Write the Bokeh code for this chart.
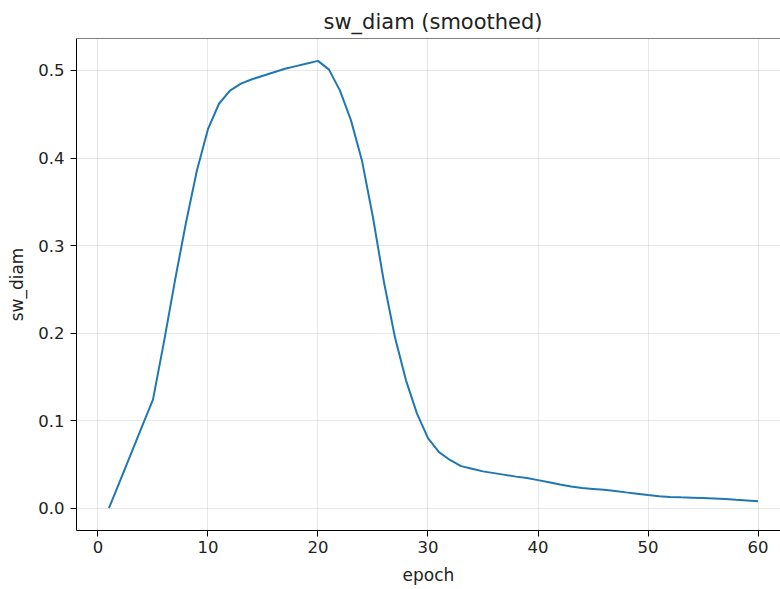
from bokeh.plotting import figure
from bokeh.models import FixedTicker, PrintfTickFormatter, Range1d, Span
from bokeh.embed import file_html
from bokeh.resources import INLINE

# smoothed sw_diam per training epoch
epochs = list(range(1, 61))
sw_diam = [
    0.000, 0.031, 0.062, 0.093, 0.124, 0.190, 0.260, 0.326, 0.386, 0.433,
    0.462, 0.477, 0.485, 0.490, 0.494, 0.498, 0.502, 0.505, 0.508, 0.511,
    0.501, 0.477, 0.443, 0.397, 0.332, 0.258, 0.195, 0.146, 0.108, 0.080,
    0.064, 0.055, 0.048, 0.045, 0.042, 0.040, 0.038, 0.036, 0.0345, 0.032,
    0.0295, 0.027, 0.0248, 0.023, 0.022, 0.021, 0.0196, 0.018, 0.0165, 0.015,
    0.0136, 0.0127, 0.0123, 0.012, 0.0115, 0.011, 0.0103, 0.0095, 0.0088, 0.0078,
]
x_ticks = [0, 10, 20, 30, 40, 50, 60]
y_ticks = [0.0, 0.1, 0.2, 0.3, 0.4, 0.5]

FONT = "DejaVu Sans"
W, H = 780, 589
LEFT, TOP, BOTTOM = 76, 38, 59
FULL_FRAME_W = 714          # the axes box runs past the right edge of the page
frame_w = W - LEFT

# 5% padding around the data
x_pad = (max(epochs) - min(epochs)) * 0.05
y_pad = (max(sw_diam) - min(sw_diam)) * 0.05
x_lo = min(epochs) - x_pad
x_hi_full = max(epochs) + x_pad
x_hi = x_lo + (x_hi_full - x_lo) * frame_w / FULL_FRAME_W
y_lo = min(sw_diam) - y_pad
y_hi = max(sw_diam) + y_pad

p = figure(
    width=W, height=H,
    output_backend="svg", toolbar_location=None,
    x_range=Range1d(x_lo, x_hi),
    y_range=Range1d(y_lo, y_hi),
    min_border_left=LEFT, min_border_right=0,
    min_border_top=TOP, min_border_bottom=BOTTOM,
    title="sw_diam (smoothed)",
)

p.title.text_font = FONT
p.title.text_font_size = "21px"
p.title.text_font_style = "normal"
p.title.align = "left"
p.title.offset = 247
p.title.text_color = "#222222"

p.outline_line_color = None
p.background_fill_color = "white"
p.border_fill_color = "white"

# top spine
p.add_layout(Span(location=y_hi, dimension="width", line_color="black", line_width=1))

p.line(epochs, sw_diam, line_color="#1f77b4", line_width=2)

p.xaxis.ticker = FixedTicker(ticks=x_ticks)
p.yaxis.ticker = FixedTicker(ticks=y_ticks)
p.yaxis.formatter = PrintfTickFormatter(format="%.1f")
p.xaxis.formatter = PrintfTickFormatter(format="%d")
p.xaxis.axis_label = "epoch"
p.yaxis.axis_label = "sw_diam"

for ax in (p.xaxis, p.yaxis):
    ax.axis_line_color = "black"
    ax.axis_line_width = 1
    ax.major_tick_line_color = "black"
    ax.major_tick_line_width = 1
    ax.major_tick_in = 0
    ax.major_tick_out = 6
    ax.minor_tick_line_color = None
    ax.major_label_text_font = FONT
    ax.major_label_text_font_size = "16.5px"
    ax.major_label_text_color = "#222222"
    ax.axis_label_text_font = FONT
    ax.axis_label_text_font_size = "17px"
    ax.axis_label_text_font_style = "normal"
    ax.axis_label_text_color = "#222222"

p.xaxis.major_label_standoff = 4
p.yaxis.major_label_standoff = 6
p.xaxis.axis_label_standoff = 9
p.yaxis.axis_label_standoff = 8

p.grid.grid_line_color = "#b0b0b0"
p.grid.grid_line_alpha = 0.3
p.xgrid.ticker = FixedTicker(ticks=x_ticks)
p.ygrid.ticker = FixedTicker(ticks=y_ticks)

open("out.html", "w").write(file_html(p, INLINE))
